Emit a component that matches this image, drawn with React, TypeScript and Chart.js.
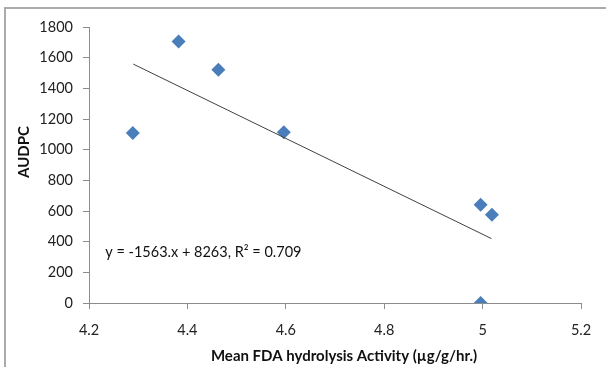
import React, { useEffect, useRef } from "react";
import { Chart, registerables } from "chart.js";

Chart.register(...registerables);

// Data
const fdaActivity = [4.289, 4.382, 4.463, 4.596, 4.996, 5.019, 4.996];
const audpc = [1109, 1706, 1521, 1113, 641, 576, 0];
// Linear trendline endpoints (y = -1563x + 8263) over the data range
const trendX = [4.29, 5.018];
const trendY = [1558, 420];
const xTicks = [4.2, 4.4, 4.6, 4.8, 5, 5.2];
const yTicks = [0, 200, 400, 600, 800, 1000, 1200, 1400, 1600, 1800];
const xTitle = "Mean FDA hydrolysis Activity (µg/g/hr.)";
const yTitle = "AUDPC";
const equation = "y = -1563.x + 8263, R² = 0.709";
const equationAt = { x: 4.233, y: 330 };

const FONT = "Lato, 'Open Sans', sans-serif";
const AXIS_COLOR = "#8c8c8c";

const textPlugin = {
  id: "extraTexts",
  afterDraw(chart: any) {
    const ctx = chart.ctx;
    const xs = chart.scales.x;
    const ys = chart.scales.y;
    ctx.save();
    ctx.fillStyle = "#111";
    // equation
    ctx.font = `14.5px ${FONT}`;
    ctx.textAlign = "left";
    ctx.textBaseline = "middle";
    ctx.fillText(equation, xs.getPixelForValue(equationAt.x), ys.getPixelForValue(equationAt.y));
    // x title
    ctx.font = `bold 15px ${FONT}`;
    ctx.textAlign = "center";
    ctx.fillText(xTitle, 344, 356);
    // y title
    ctx.translate(24, 152);
    ctx.rotate(-Math.PI / 2);
    ctx.fillText(yTitle, 0, 0);
    ctx.restore();
  },
};

export default function App() {
  const ref = useRef<HTMLCanvasElement>(null);
  useEffect(() => {
    if (!ref.current) return;
    const chart = new Chart(ref.current, {
      type: "scatter",
      data: {
        datasets: [
          {
            label: "Trend",
            data: trendX.map((x, i) => ({ x, y: trendY[i] })),
            showLine: true,
            borderColor: "#404040",
            borderWidth: 1,
            pointRadius: 0,
            fill: false,
          },
          {
            label: "AUDPC",
            data: fdaActivity.map((x, i) => ({ x, y: audpc[i] })),
            pointStyle: "rectRot",
            pointRadius: 7,
            backgroundColor: "#4a7ebb",
            borderColor: "#4a7ebb",
            borderWidth: 0,
          },
        ],
      },
      options: {
        responsive: false,
        animation: false,
        devicePixelRatio: 1,
        layout: { padding: { left: 0, top: 27, right: 25, bottom: 0 } },
        plugins: { legend: { display: false }, tooltip: { enabled: false } },
        scales: {
          x: {
            type: "linear",
            min: 4.2,
            max: 5.2,
            afterBuildTicks: (s: any) => {
              s.ticks = xTicks.map((v) => ({ value: v }));
            },
            afterFit: (s: any) => {
              s.height = 64;
            },
            ticks: {
              color: "#222",
              font: { family: FONT, size: 14.5 },
              padding: 13,
              maxRotation: 0,
              callback: (v: any) => String(Number(Number(v).toFixed(1))),
            },
            grid: {
              drawOnChartArea: false,
              drawTicks: true,
              tickLength: 6,
              color: AXIS_COLOR,
            },
            border: { display: true, color: AXIS_COLOR, width: 1 },
          },
          y: {
            type: "linear",
            min: 0,
            max: 1800,
            afterBuildTicks: (s: any) => {
              s.ticks = yTicks.map((v) => ({ value: v }));
            },
            afterFit: (s: any) => {
              s.width = 89;
            },
            ticks: {
              color: "#222",
              font: { family: FONT, size: 14.5 },
              padding: 10,
              callback: (v: any) => String(v),
            },
            grid: {
              drawOnChartArea: false,
              drawTicks: true,
              tickLength: 6,
              color: AXIS_COLOR,
            },
            border: { display: true, color: AXIS_COLOR, width: 1 },
          },
        },
      },
      plugins: [textPlugin],
    });
    return () => chart.destroy();
  }, []);

  return (
    <div
      style={{
        position: "fixed",
        left: 0,
        top: 0,
        width: 606,
        height: 367,
        background: "#fff",
        overflow: "hidden",
      }}
    >
      <div
        style={{
          position: "absolute",
          left: 4,
          top: 7,
          width: 700,
          height: 500,
          border: "2px solid #ababab",
          boxSizing: "border-box",
        }}
      />
      <canvas
        ref={ref}
        width={606}
        height={367}
        style={{ position: "absolute", left: 0, top: 0, width: 606, height: 367 }}
      />
    </div>
  );
}
